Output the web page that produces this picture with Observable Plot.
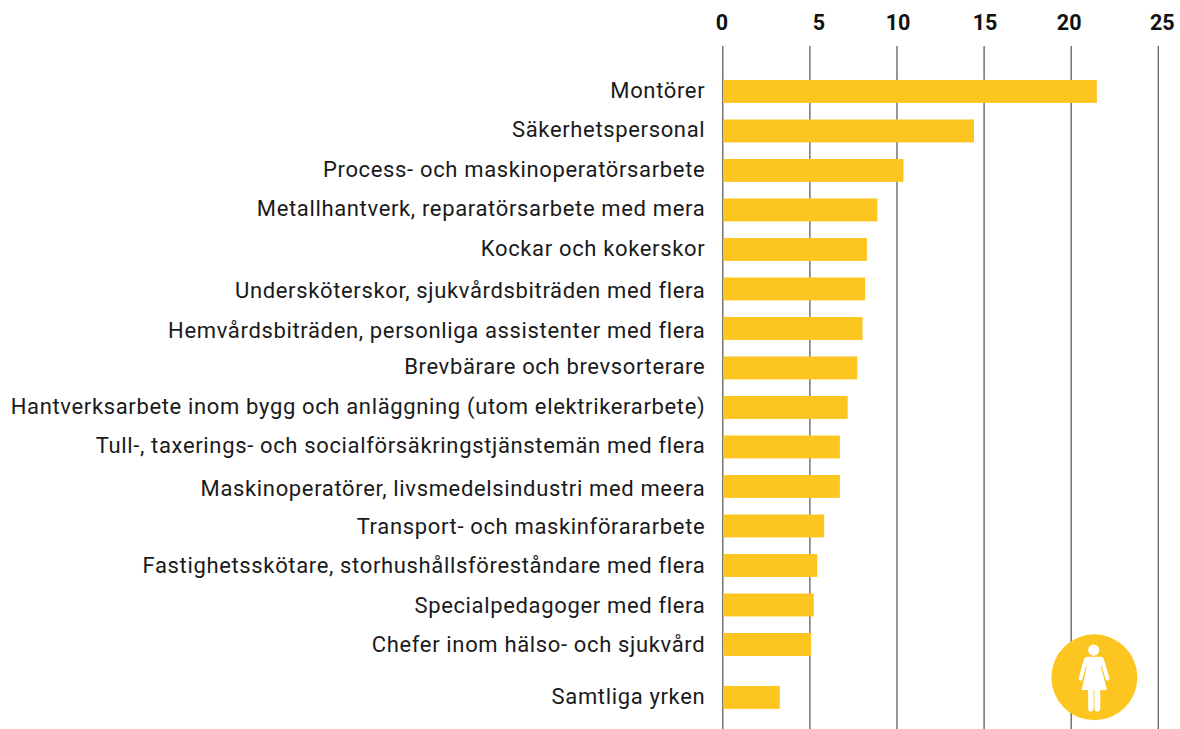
<!DOCTYPE html>
<html><head><meta charset="utf-8">
<script src="https://cdn.jsdelivr.net/npm/d3@7"></script>
<script src="https://cdn.jsdelivr.net/npm/@observablehq/plot@0.6"></script>
<style>html,body{margin:0;padding:0;background:#fff}svg{display:block}
svg text{letter-spacing:.65px}
svg g[font-weight="700"] text{letter-spacing:0}</style>
</head><body><div id="chart"></div>
<script>
const categories = ["Montörer","Säkerhetspersonal","Process- och maskinoperatörsarbete","Metallhantverk, reparatörsarbete med mera","Kockar och kokerskor","Undersköterskor, sjukvårdsbiträden med flera","Hemvårdsbiträden, personliga assistenter med flera","Brevbärare och brevsorterare","Hantverksarbete inom bygg och anläggning (utom elektrikerarbete)","Tull-, taxerings- och socialförsäkringstjänstemän med flera","Maskinoperatörer, livsmedelsindustri med meera","Transport- och maskinförararbete","Fastighetsskötare, storhushållsföreståndare med flera","Specialpedagoger med flera","Chefer inom hälso- och sjukvård","Samtliga yrken"];
const values = [21.5,14.45,10.4,8.9,8.3,8.2,8.05,7.75,7.2,6.75,6.75,5.85,5.45,5.25,5.1,3.3];
const rowOrder = [0,1,2,3,4,5,6,7,8,9,10,11,12,13,14,15.34];
const labelNudge = [-1,-1,-1,-1,-1,2,2,-1,-1,-1,2,0,0,0,0,-1];
const tickLabels = [0,5,10,15,20,25];
const tickNudge = [-1,9,1,1,-2,4];
const yellow = "#fdc51f";
const rows = categories.map((name,i)=>({name,value:values[i],row:rowOrder[i],nudge:labelNudge[i]}));
const woman = {draw(c,size){
  const k = Math.sqrt(size/Math.PI)/43;
  const P=(x,y)=>[x*k,y*k];
  const poly=pts=>{pts.forEach((p,i)=>{const q=P(p[0],p[1]); i?c.lineTo(q[0],q[1]):c.moveTo(q[0],q[1]);}); c.closePath();};
  c.moveTo(5*k,-27.3*k); c.arc(-0.6*k,-27.3*k,5.6*k,0,2*Math.PI); c.closePath();
  poly([[-6.5,-20.7],[5.5,-20.7],[8,-20],[9.5,-18],[15.2,0.8],[14.5,2.8],[12.5,3.4],[11.2,2],[7.3,-11.7],[6.4,-11.7],[12.6,12.7],[5.9,12.7],[5.9,31.5],[4.8,33.6],[2.8,34.3],[0.9,33.6],[0,31.5],[0,12.7],[-0.8,12.7],[-0.8,31.5],[-1.8,33.6],[-3.7,34.3],[-5.7,33.6],[-6.2,31.5],[-6.2,12.7],[-12.7,12.7],[-7.5,-11.7],[-8.2,-11.7],[-12,2],[-13.3,3.4],[-15.3,2.8],[-15.8,0.8],[-10.5,-18],[-9,-20]]);
}};
const iconSpot = [{x:21.33,row:14.82}];
const font = "Roboto, sans-serif";
const base = Plot.plot({
  width:1180,height:729,
  marginTop:46,marginBottom:0,marginLeft:722.3,marginRight:22.2,
  style:{background:"#fff",overflow:"visible"},
  x:{domain:[0,25],axis:null},
  y:{type:"linear",domain:[-1.15,16.14],reverse:true,axis:null},
  marks:[
    Plot.ruleX(tickLabels,{x:d=>d,stroke:"#5e5e5e",strokeWidth:1.3}),
    Plot.dot(iconSpot,{x:"x",y:"row",r:43,fill:yellow,stroke:"none"}),
    Plot.dot(iconSpot,{x:"x",y:"row",r:43,symbol:woman,fill:"#fff",stroke:"none"}),
    Plot.rectX(rows,{x1:0,x2:"value",y1:d=>d.row-0.29,y2:d=>d.row+0.29,fill:yellow,insetLeft:0.8}),
    ...tickLabels.map((t,i)=>Plot.text([t],{x:d=>d,frameAnchor:"top",dy:-32,dx:tickNudge[i],text:d=>String(d),fontSize:21.5,fontWeight:700,fontFamily:font,fill:"#111",textAnchor:"middle"})),
    ...[-1,0,2].map(n=>Plot.text(rows.filter(d=>d.nudge===n),{x:0,y:"row",dx:-17.5,dy:n,text:"name",textAnchor:"end",fontSize:22,fontFamily:font,fill:"#1a1a1a"}))
  ]
});
document.getElementById("chart").append(base);
</script></body></html>
